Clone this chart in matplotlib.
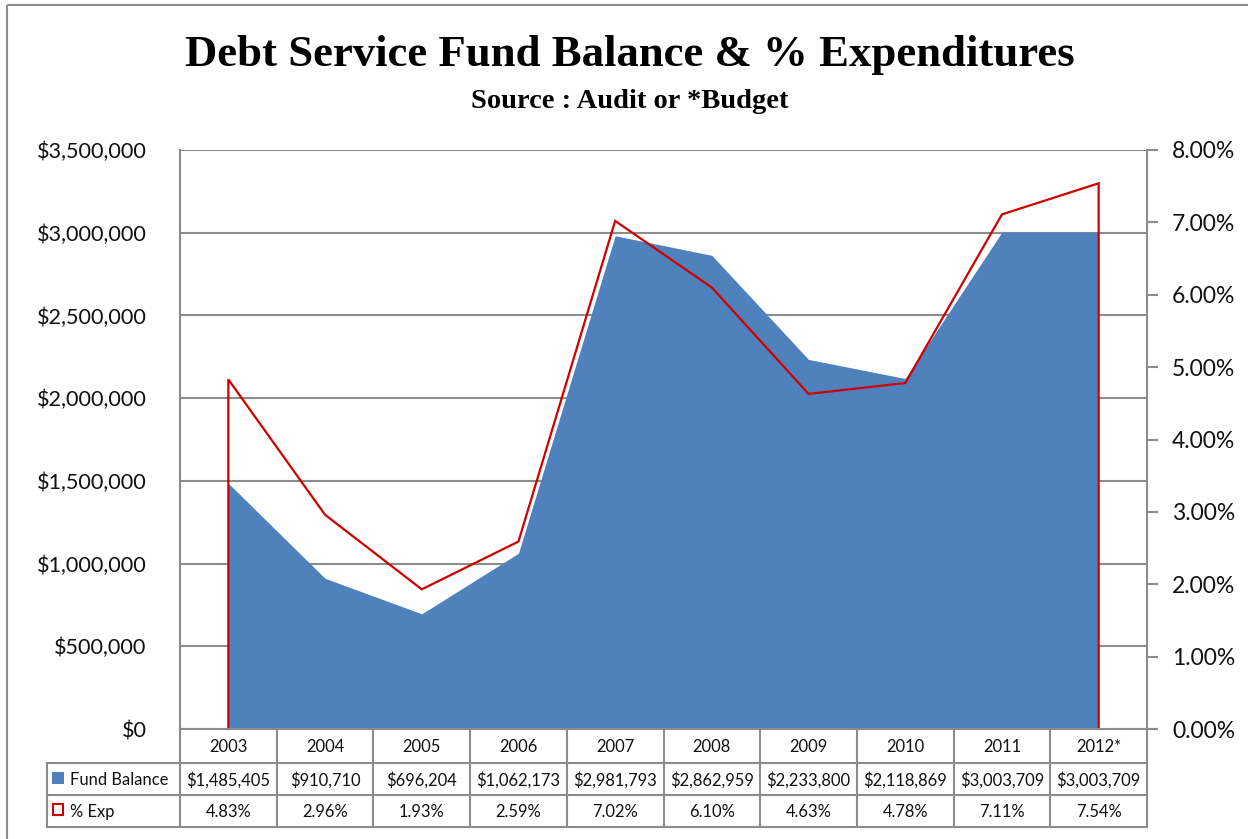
import matplotlib
matplotlib.use("Agg")
import matplotlib.pyplot as plt
from matplotlib.patches import Rectangle
from matplotlib.ticker import FuncFormatter, MultipleLocator

years = ["2003", "2004", "2005", "2006", "2007", "2008", "2009", "2010", "2011", "2012*"]
fund_balance = [1485405, 910710, 696204, 1062173, 2981793, 2862959, 2233800, 2118869, 3003709, 3003709]
pct_exp = [4.83, 2.96, 1.93, 2.59, 7.02, 6.10, 4.63, 4.78, 7.11, 7.54]

W, H = 1248, 839
DPI = 100
BLUE = "#4F81BD"
RED = "#D00000"
GRID = "#8C8C8C"
SANS = "Lato"

fig = plt.figure(figsize=(W / DPI, H / DPI), dpi=DPI)
fig.patch.set_facecolor("white")

# plot area in pixel coordinates
L, R, T, B = 180, 1147, 150, 729
ax = fig.add_axes([L / W, 1 - B / H, (R - L) / W, (B - T) / H])
n = len(years)
xs = list(range(n))

ax.fill_between(xs, fund_balance, 0, color=BLUE, linewidth=0, zorder=2)
ax.set_xlim(-0.5, n - 0.5)
ax.set_ylim(0, 3500000)
ax.yaxis.set_major_locator(MultipleLocator(500000))
ax.yaxis.set_major_formatter(FuncFormatter(lambda v, p: f"${v:,.0f}"))
ax.grid(axis="y", color=GRID, linewidth=1.5, zorder=0)
ax.set_axisbelow(True)
ax.set_xticks([])
ax.tick_params(axis="y", length=0, pad=24, labelsize=15.6, labelcolor="#111111")
for lab in ax.get_yticklabels():
    lab.set_fontfamily(SANS)
for side in ["top", "right", "bottom"]:
    ax.spines[side].set_visible(False)
ax.spines["left"].set_color(GRID)
ax.spines["left"].set_linewidth(1.5)

ax2 = ax.twinx()
ax2.set_ylim(0, 8)
ax2.yaxis.set_major_locator(MultipleLocator(1))
ax2.yaxis.set_major_formatter(FuncFormatter(lambda v, p: f"{v:.2f}%"))
ax2.plot([xs[0]] + xs + [xs[-1]], [0] + pct_exp + [0], color=RED, linewidth=1.6,
         solid_joinstyle="miter", zorder=3, clip_on=False)
ax2.tick_params(axis="y", length=8, width=1.5, color=GRID, pad=10, labelsize=16.5,
                labelcolor="#111111")
for lab in ax2.get_yticklabels():
    lab.set_fontfamily(SANS)
for side in ["top", "left", "bottom"]:
    ax2.spines[side].set_visible(False)
ax2.spines["right"].set_color(GRID)
ax2.spines["right"].set_linewidth(1.5)

# overlay in pixel coordinates for the title, data table and frame
ov = fig.add_axes([0, 0, 1, 1], zorder=5)
ov.set_xlim(0, W)
ov.set_ylim(H, 0)
ov.axis("off")
ov.patch.set_alpha(0)

ov.add_patch(Rectangle((7, 5), W + 20, H + 20, fill=False, edgecolor=GRID, linewidth=1.5))

ov.text(630, 55, "Debt Service Fund Balance & % Expenditures", family="Liberation Serif",
        weight="bold", fontsize=32.2, ha="center", va="center", color="black")
ov.text(630, 102, "Source : Audit or *Budget", family="Liberation Serif", weight="bold",
        fontsize=20.5, ha="center", va="center", color="black")

# bottom axis line with a tick reaching the right axis
ov.plot([L, R + 10], [B, B], color=GRID, linewidth=1.5)

col_w = (R - L) / n
rows = [B, 763, 795, 827]
tl = 47
for y in rows[1:]:
    ov.plot([tl, R], [y, y], color=GRID, linewidth=1.5)
ov.plot([tl, tl], [rows[1], rows[3]], color=GRID, linewidth=1.5)
for i in range(n + 1):
    x = L + i * col_w
    ov.plot([x, x], [B, rows[3]], color=GRID, linewidth=1.5)

fs = 11.9
for i in range(n):
    cx = L + (i + 0.5) * col_w
    ov.text(cx, (rows[0] + rows[1]) / 2 + 1, years[i], family=SANS, fontsize=fs,
            ha="center", va="center", color="#111111")
    ov.text(cx, (rows[1] + rows[2]) / 2 + 1, f"${fund_balance[i]:,}", family=SANS,
            fontsize=fs, ha="center", va="center", color="#111111")
    ov.text(cx, (rows[2] + rows[3]) / 2 + 1, f"{pct_exp[i]:.2f}%", family=SANS,
            fontsize=fs, ha="center", va="center", color="#111111")

# legend keys and series names
ov.add_patch(Rectangle((52, 772), 12, 12, facecolor=BLUE, edgecolor="none"))
ov.add_patch(Rectangle((53, 804), 10, 11, facecolor="white", edgecolor=RED, linewidth=1.5))
ov.text(70, (rows[1] + rows[2]) / 2 + 1, "Fund Balance", family=SANS, fontsize=fs,
        ha="left", va="center", color="#111111")
ov.text(70, (rows[2] + rows[3]) / 2 + 1, "% Exp", family=SANS, fontsize=fs,
        ha="left", va="center", color="#111111")

fig.savefig("out.png", dpi=DPI, facecolor="white")
